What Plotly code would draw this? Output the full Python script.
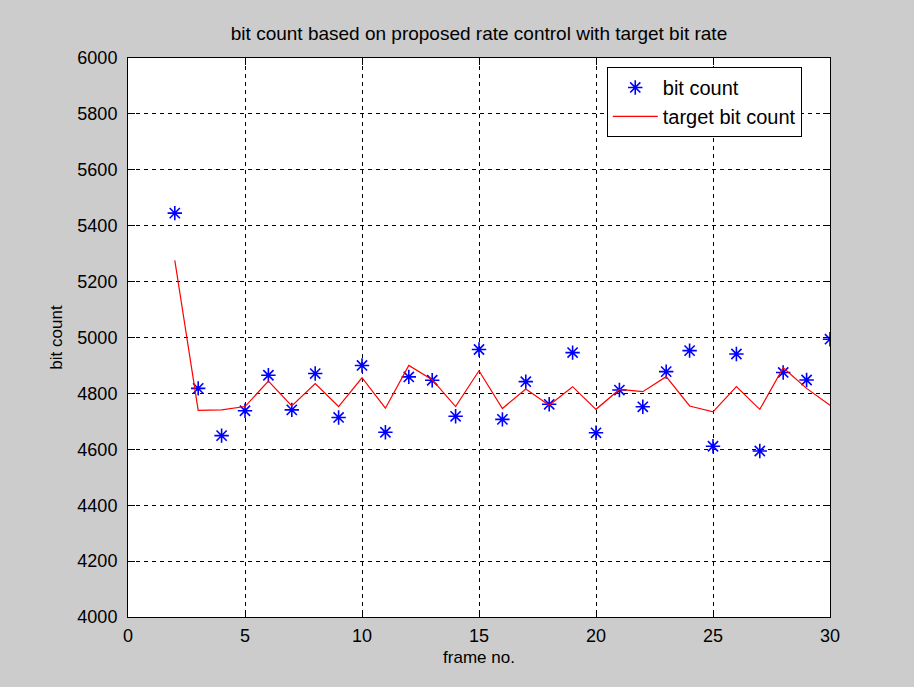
import plotly.graph_objects as go

frames = list(range(2, 31))
bit_count = [5445, 4818, 4649, 4738, 4865, 4741, 4871, 4714, 4900, 4661,
             4859, 4847, 4718, 4957, 4707, 4842, 4761, 4946, 4659, 4812,
             4752, 4878, 4953, 4611, 4941, 4594, 4875, 4848, 4994]
target_bit_count = [5276, 4739, 4741, 4753, 4844, 4755, 4835, 4753, 4856, 4747,
                    4900, 4849, 4753, 4881, 4746, 4816, 4758, 4824, 4743, 4814,
                    4806, 4860, 4755, 4734, 4824, 4743, 4892, 4818, 4758]
x_ticks = [0, 5, 10, 15, 20, 25, 30]
y_ticks = list(range(4000, 6001, 200))

font_family = "Liberation Sans, Arial, sans-serif"

fig = go.Figure()
fig.add_trace(go.Scatter(
    x=frames, y=bit_count, mode="markers", name="bit count",
    marker=dict(symbol="asterisk-open", size=12, color="#0000ff",
                line=dict(color="#0000ff", width=1.6)),
))
fig.add_trace(go.Scatter(
    x=frames, y=target_bit_count, mode="lines", name="target bit count",
    line=dict(color="#ff0000", width=1.2),
))

axis_common = dict(
    showgrid=True, gridcolor="black", gridwidth=1, griddash="4px,4px",
    showline=True, linecolor="black", linewidth=1, mirror="ticks",
    ticks="inside", ticklen=7, tickcolor="black", zeroline=False,
    tickfont=dict(family=font_family, size=18, color="black"),
)

fig.update_xaxes(range=[0, 30], tickvals=x_ticks, ticklabelstandoff=2,
                 title=dict(text="frame no.", font=dict(family=font_family, size=17, color="black"), standoff=6),
                 **axis_common)
fig.update_yaxes(range=[4000, 6000], tickvals=y_ticks, ticklabelstandoff=6,
                 title=dict(text="bit count", font=dict(family=font_family, size=17, color="black"), standoff=10),
                 **axis_common)

fig.update_layout(
    width=914, height=687,
    paper_bgcolor="#cccccc", plot_bgcolor="white",
    margin=dict(l=128, r=84, t=58, b=70),
    title=dict(text="bit count based on proposed rate control with target bit rate",
               x=0.5, xanchor="center", y=1 - 33 / 687, yanchor="middle",
               xref="paper",
               font=dict(family=font_family, size=19, color="black")),
    legend=dict(x=0.682, y=0.984, xanchor="left", yanchor="top",
                bgcolor="white", bordercolor="black", borderwidth=1,
                itemwidth=45,
                font=dict(family=font_family, size=20, color="black")),
    showlegend=True,
)

fig.write_html("out.html")
